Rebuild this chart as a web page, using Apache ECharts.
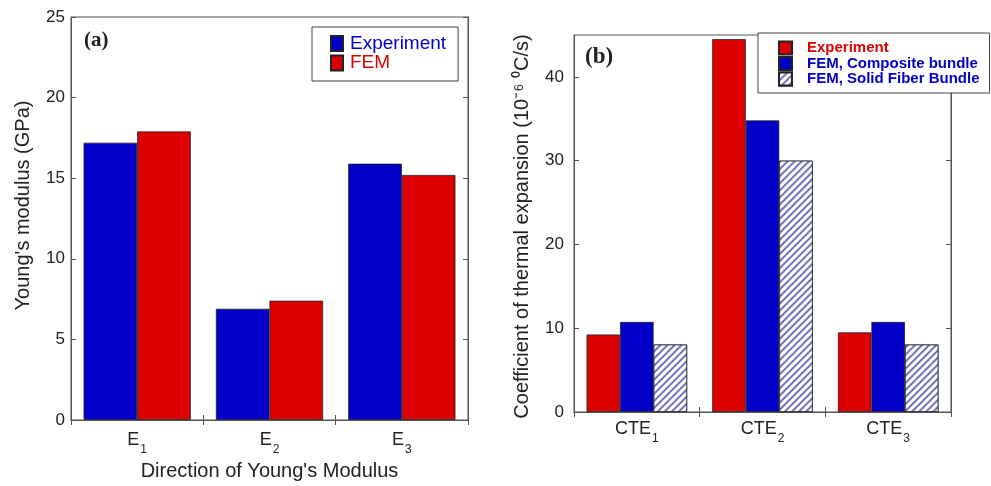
<!DOCTYPE html>
<html>
<head>
<meta charset="utf-8">
<script src="https://cdn.jsdelivr.net/npm/echarts@6/dist/echarts.min.js"></script>
<style>html,body{margin:0;padding:0;background:#fff}#c{width:991px;height:486px}</style>
</head>
<body>
<div id="c"></div>
<script>
// ---- data ----
const categoriesA = ['E1', 'E2', 'E3'];
const experimentA = [17.2, 6.9, 15.9];
const femA = [17.9, 7.4, 15.2];
const yMaxA = 25, yIntervalA = 5;

const categoriesB = ['CTE1', 'CTE2', 'CTE3'];
const experimentB = [9.25, 44.5, 9.5];
const compositeB = [10.75, 34.8, 10.75];
const solidB = [8.05, 30.0, 8.05];
const yMaxB = 45, yIntervalB = 10;

const seriesNamesA = ['Experiment', 'FEM'];
const seriesNamesB = ['Experiment', 'FEM, Composite bundle', 'FEM, Solid Fiber Bundle'];

// ---- style ----
const FONT = 'Liberation Sans, Arial, sans-serif';
const TXT = '#222';
const AX = '#555';
const BLUE = '#0000c8';
const RED = '#dc0000';

const chart = echarts.init(document.getElementById('c'), null, {renderer: 'canvas'});

function subLabel(v) {
  return '{b|' + v.slice(0, -1) + '}{s|' + v.slice(-1) + '}';
}
function catAxis(gridIndex, data, pos, showLabel, margin) {
  return {
    type: 'category', gridIndex, data, position: pos,
    axisLine: {show: true, lineStyle: {color: AX, width: 1}},
    axisTick: {show: true, inside: true, length: 5, lineStyle: {color: AX}},
    axisLabel: showLabel ? {
      show: true, margin, formatter: subLabel,
      rich: {
        b: {fontSize: 18, fontFamily: FONT, color: TXT, verticalAlign: 'top'},
        s: {fontSize: 12, fontFamily: FONT, color: TXT, padding: [13, 0, 0, 1], verticalAlign: 'bottom'}
      }
    } : {show: false},
    splitLine: {show: false}
  };
}
function valAxis(gridIndex, max, interval, pos, showLabel, margin) {
  return {
    type: 'value', gridIndex, min: 0, max, interval, position: pos,
    axisLine: {show: true, lineStyle: {color: AX, width: 1}},
    axisTick: {show: true, inside: true, length: 5, lineStyle: {color: AX}},
    axisLabel: showLabel ? {show: true, margin, fontSize: 17, fontFamily: FONT, color: TXT, showMaxLabel: max % interval === 0} : {show: false},
    splitLine: {show: false}
  };
}

const barBorder = {borderColor: '#222', borderWidth: 0.8};

const option = {
  backgroundColor: '#fff',
  animation: false,
  grid: [
    {left: 71, top: 17, width: 397, height: 403, show: true, borderColor: AX, borderWidth: 1, backgroundColor: 'transparent'},
    {left: 574, top: 35, width: 377, height: 377, show: true, borderColor: AX, borderWidth: 1, backgroundColor: 'transparent'}
  ],
  xAxis: [
    Object.assign(catAxis(0, categoriesA, 'bottom', true, 11), {
      name: "Direction of Young's Modulus", nameLocation: 'middle', nameGap: 41,
      nameTextStyle: {fontSize: 20, fontFamily: FONT, color: TXT}
    }),
    catAxis(0, categoriesA, 'top', false),
    catAxis(1, categoriesB, 'bottom', true, 8),
    catAxis(1, categoriesB, 'top', false)
  ],
  yAxis: [
    Object.assign(valAxis(0, yMaxA, yIntervalA, 'left', true, 6), {
      name: "Young's modulus (GPa)", nameLocation: 'middle', nameGap: 38,
      nameTextStyle: {fontSize: 20, fontFamily: FONT, color: TXT, padding: [0, 0, 0, 26]}
    }),
    valAxis(0, yMaxA, yIntervalA, 'right', false),
    Object.assign(valAxis(1, yMaxB, yIntervalB, 'left', true, 10), {
      name: 'Coefficient of thermal expansion (10⁻⁶ ⁰C/s)', nameLocation: 'middle', nameGap: 42,
      nameTextStyle: {fontSize: 20, fontFamily: FONT, color: TXT, padding: [0, 6, 0, 0]}
    }),
    valAxis(1, yMaxB, yIntervalB, 'right', false)
  ],
  legend: [
    {
      orient: 'vertical', left: 312, top: 27,
      padding: [6.75, 12, 8.25, 18], itemGap: 0, itemWidth: 12, itemHeight: 15,
      borderColor: '#444', borderWidth: 1, backgroundColor: '#fff',
      icon: 'rect',
      textStyle: {fontSize: 19, lineHeight: 19.5, fontFamily: FONT, padding: [0, 0, 0, 2]},
      data: [
        {name: seriesNamesA[0], textStyle: {color: BLUE}},
        {name: seriesNamesA[1], textStyle: {color: RED}}
      ]
    },
    {
      orient: 'vertical', left: 758, top: 33,
      padding: [7.25, 10, 6.25, 20], itemGap: 0, itemWidth: 13, itemHeight: 13,
      borderColor: '#444', borderWidth: 1, backgroundColor: '#fff',
      icon: 'rect',
      textStyle: {fontSize: 15, lineHeight: 15.5, fontFamily: FONT, fontWeight: 'bold', padding: [0, 0, 0, 10]},
      data: [
        {name: seriesNamesB[0] + ' ', textStyle: {color: RED}},
        {name: seriesNamesB[1], textStyle: {color: BLUE}},
        {name: seriesNamesB[2], textStyle: {color: BLUE}}
      ]
    }
  ],
  graphic: [
    {type: 'text', left: 84, top: 30, z: 100, style: {text: '(a)', font: 'bold 21px "Liberation Serif", serif', fill: '#222'}},
    {type: 'text', left: 585, top: 46, z: 100, style: {text: '(b)', font: 'bold 23px "Liberation Serif", serif', fill: '#222'}}
  ],
  series: [
    {name: seriesNamesA[0], type: 'bar', xAxisIndex: 0, yAxisIndex: 0, data: experimentA,
      barGap: '0%', barCategoryGap: '19%', itemStyle: Object.assign({color: BLUE}, barBorder)},
    {name: seriesNamesA[1], type: 'bar', xAxisIndex: 0, yAxisIndex: 0, data: femA,
      barGap: '0%', barCategoryGap: '19%', itemStyle: Object.assign({color: RED}, barBorder)},
    {name: seriesNamesB[0] + ' ', type: 'bar', xAxisIndex: 2, yAxisIndex: 2, data: experimentB,
      barGap: '0%', barCategoryGap: '20%', itemStyle: Object.assign({color: RED}, barBorder)},
    {name: seriesNamesB[1], type: 'bar', xAxisIndex: 2, yAxisIndex: 2, data: compositeB,
      barGap: '0%', barCategoryGap: '20%', itemStyle: Object.assign({color: BLUE}, barBorder)},
    {name: seriesNamesB[2], type: 'bar', xAxisIndex: 2, yAxisIndex: 2, data: solidB,
      barGap: '0%', barCategoryGap: '20%',
      itemStyle: Object.assign({
        color: '#fff',
        decal: {symbol: 'rect', symbolSize: 1, color: '#7272c4', backgroundColor: '#fff',
          dashArrayX: [1, 0], dashArrayY: [1.2, 2.4], rotation: -Math.PI / 4}
      }, barBorder)}
  ]
};
chart.setOption(option);
</script>
</body>
</html>
